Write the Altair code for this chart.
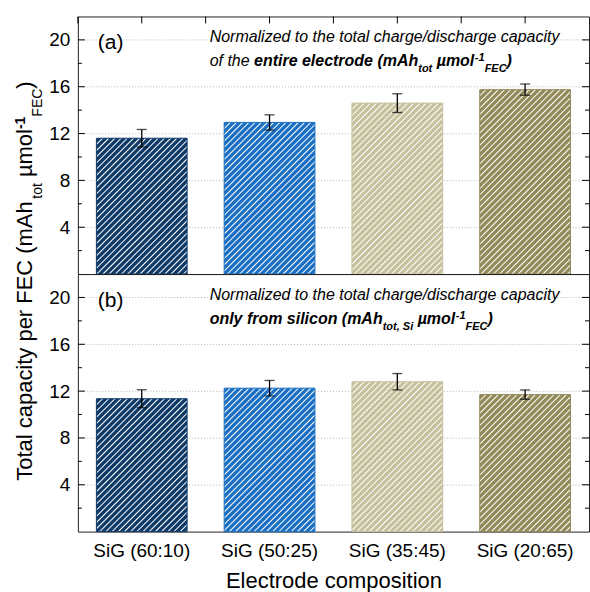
import altair as alt
import pandas as pd

# ---------------- data ----------------
categories = ["SiG (60:10)", "SiG (50:25)", "SiG (35:45)", "SiG (20:65)"]
bar_colors = ["#0f3a68", "#1a6fc3", "#c6c09c", "#938a5a"]
capacity_entire = [11.6, 12.95, 14.6, 15.75]
error_entire = [0.75, 0.65, 0.8, 0.48]
capacity_silicon = [11.35, 12.25, 12.8, 11.7]
error_silicon = [0.77, 0.66, 0.7, 0.4]
major_ticks = [4, 8, 12, 16, 20]
minor_ticks = [2, 6, 10, 14, 18]

# ---------------- layout constants ----------------
W, H = 512, 258
YMAX = 22
BAR_FRAC = 0.71
FONT = "Liberation Sans"
ONE = pd.DataFrame({"k": [0]})

REG = {' ': 278, '(': 333, ')': 333, ',': 278, '-': 333, '/': 278, '1': 556,
       'A': 667, 'C': 722, 'E': 667, 'F': 611, 'N': 722, 'S': 667, 'T': 611,
       'a': 556, 'c': 500, 'd': 556, 'e': 556, 'f': 278, 'g': 556, 'h': 556,
       'i': 222, 'l': 222, 'm': 833, 'n': 556, 'o': 556, 'p': 556, 'r': 333,
       's': 500, 't': 278, 'u': 556, 'y': 500, 'z': 500, 'µ': 576}
BOLD = {' ': 278, '(': 333, ')': 333, ',': 278, '-': 333, '1': 556,
        'A': 722, 'C': 722, 'E': 667, 'F': 611, 'S': 667,
        'a': 556, 'c': 556, 'd': 611, 'e': 556, 'f': 333, 'h': 611, 'i': 278,
        'l': 278, 'm': 889, 'n': 611, 'o': 611, 'r': 389, 's': 556, 't': 333,
        'y': 556, 'µ': 611}


def text_width(s, size, bold):
    table = BOLD if bold else REG
    return sum(table.get(ch, 556) for ch in s) * size / 1000.0


def rich_text(pieces, x0, y0, angle=0):
    layers = []
    pos = 0.0
    for s, size, weight, style, shift in pieces:
        bold = weight == "bold"
        lead = len(s) - len(s.lstrip(" "))
        start = pos + text_width(s[:lead], size, bold)
        pos += text_width(s, size, bold)
        if angle == 0:
            x, y = x0 + start, y0 + shift
        else:
            x, y = x0 + shift, y0 - start
        layers.append(
            alt.Chart(ONE).mark_text(
                text=s.strip(), font=FONT, fontSize=size, fontWeight=weight,
                fontStyle=style, align="left", baseline="alphabetic",
                angle=angle, color="black"
            ).encode(x=alt.value(x), y=alt.value(y))
        )
    return layers


def hatch(color, value):
    """Diagonal white stripes as a linear gradient (3 stops per stripe)."""
    w = BAR_FRAC * W / len(categories)
    h = value / YMAX * H
    d = w * w + h * h
    period = 6.2 * w / d
    t_max = (w + h) * w / d + period
    r = 0.23 * period
    stops = []
    k = 0
    while k * period <= t_max and k * period < 1:
        t0 = k * period
        stops.append({"offset": round(t0, 5), "color": "white"})
        if t0 + r < 1:
            stops.append({"offset": round(t0 + r, 5), "color": color})
        if t0 + period - r < 1:
            stops.append({"offset": round(t0 + period - r, 5), "color": color})
        k += 1
    return {"gradient": "linear", "x1": 0, "y1": 0, "x2": 1, "y2": h / w,
            "stops": stops}


def panel(values, errors, show_x, extra_layers):
    df = pd.DataFrame({
        "cat": categories,
        "val": values,
        "lo": [v - e for v, e in zip(values, errors)],
        "hi": [v + e for v, e in zip(values, errors)],
    })
    xscale = alt.Scale(domain=categories, paddingInner=0, paddingOuter=0)
    if show_x:
        xaxis = alt.Axis(labelFontSize=19, labelPadding=10, ticks=False, tickSize=0,
                         domain=False, labelAngle=0, labelColor="black",
                         title="Electrode composition", titleFontSize=22,
                         titleFontWeight="normal", titleColor="black",
                         titleBaseline="alphabetic", titleY=56)
    else:
        xaxis = None
    yscale = alt.Scale(domain=[0, YMAX], nice=False, zero=True)
    yaxis = alt.Axis(values=major_ticks, ticks=False, tickSize=0, domain=False,
                     labelFontSize=19, labelPadding=8, labelColor="black",
                     grid=True, gridDash=[1, 2], gridColor="#b5b5b5", title=None)

    def X(**kw):
        return alt.X("cat:N", sort=categories, scale=xscale, axis=xaxis, **kw)

    def Y(field):
        return alt.Y(field, scale=yscale, axis=yaxis)

    layers = []
    for i, (col, v) in enumerate(zip(bar_colors, values)):
        layers.append(
            alt.Chart(df.iloc[[i]]).mark_bar(
                width=alt.RelativeBandSize(BAR_FRAC), stroke=col, strokeWidth=1,
                fill=hatch(col, v)
            ).encode(x=X(), y=Y("val:Q"))
        )
    layers.append(alt.Chart(df).mark_rule(color="black", strokeWidth=1.3)
                  .encode(x=X(), y=Y("lo:Q"), y2="hi:Q"))
    for f in ["lo:Q", "hi:Q"]:
        layers.append(alt.Chart(df).mark_tick(color="black", thickness=1.3, size=10,
                                               orient="horizontal")
                      .encode(x=X(), y=Y(f)))
    tmaj = pd.DataFrame({"v": major_ticks})
    tmin = pd.DataFrame({"v": minor_ticks})
    for tdf, ln in [(tmaj, 7), (tmin, 4)]:
        layers.append(alt.Chart(tdf).mark_rule(color="black", strokeWidth=1)
                      .encode(y=Y("v:Q"), x=alt.value(0), x2=alt.value(ln)))
        layers.append(alt.Chart(tdf).mark_rule(color="black", strokeWidth=1)
                      .encode(y=Y("v:Q"), x=alt.value(W - ln), x2=alt.value(W)))
    layers += extra_layers(X)
    return alt.layer(*layers).properties(width=W, height=H)


def top_extra(X):
    df = pd.DataFrame({"cat": categories})
    out = []
    for bp in [0, 0.5]:
        out.append(alt.Chart(df).mark_rule(color="black", strokeWidth=1)
                   .encode(x=X(bandPosition=bp), y=alt.value(0), y2=alt.value(7)))
    out += rich_text([("(a)", 21, "normal", "normal", 0)], 20, 33)
    out += rich_text([("Normalized to the total charge/discharge capacity", 16, "normal", "italic", 0)], 132, 26)
    out += rich_text([
        ("of the ", 16, "normal", "italic", 0),
        ("entire electrode (mAh", 16, "bold", "italic", 0),
        ("tot", 11, "bold", "italic", 6),
        (" µmol", 16, "bold", "italic", 0),
        ("-1", 11, "bold", "italic", -5),
        ("FEC", 11, "bold", "italic", 6),
        (")", 16, "bold", "italic", 0),
    ], 132, 50)
    out += rich_text([
        ("Total capacity per FEC (mAh", 22, "normal", "normal", 0),
        ("tot", 14, "normal", "normal", 10),
        (" µmol", 22, "normal", "normal", 0),
        ("-1", 14, "bold", "normal", -7),
        ("FEC", 14, "normal", "normal", 10),
        (")", 22, "normal", "normal", 0),
    ], -46, 465, angle=270)
    return out


def bottom_extra(X):
    out = []
    out += rich_text([("(b)", 21, "normal", "normal", 0)], 20, 33)
    out += rich_text([("Normalized to the total charge/discharge capacity", 16, "normal", "italic", 0)], 132, 26)
    out += rich_text([
        ("only from silicon (mAh", 16, "bold", "italic", 0),
        ("tot, Si", 11, "bold", "italic", 6),
        (" µmol", 16, "bold", "italic", 0),
        ("-1", 11, "bold", "italic", -5),
        ("FEC", 11, "bold", "italic", 6),
        (")", 16, "bold", "italic", 0),
    ], 132, 50)
    return out


top = panel(capacity_entire, error_entire, False, top_extra)
bottom = panel(capacity_silicon, error_silicon, True, bottom_extra)

chart = alt.vconcat(top, bottom, spacing=0, bounds="flush").properties(
    padding={"left": 13, "top": 15, "right": 0, "bottom": 0}
).configure(font=FONT).configure_view(stroke="#222222", strokeWidth=1)

chart.save("out.html", embed_options={"renderer": "svg", "actions": False})
